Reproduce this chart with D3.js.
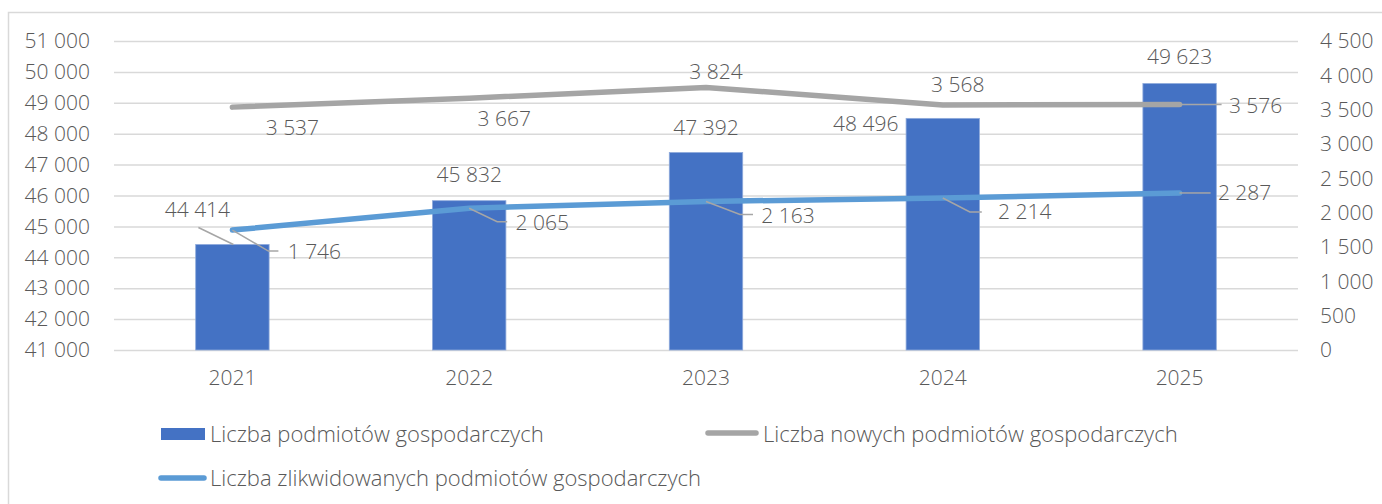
<!DOCTYPE html>
<html>
<head>
<meta charset="utf-8">
<script src="https://cdn.jsdelivr.net/npm/d3@7"></script>
<style>
  body { margin: 0; background: #fff; }
  svg text { font-family: "Open Sans", sans-serif; font-weight: 300; fill: #595959; }
</style>
</head>
<body>
<div id="chart"></div>
<script>
// data
const years = ["2021", "2022", "2023", "2024", "2025"]
const firms = [44414, 45832, 47392, 48496, 49623]
const newFirms = [3537, 3667, 3824, 3568, 3576]
const closedFirms = [1746, 2065, 2163, 2214, 2287]
const leftTicks = [41000, 42000, 43000, 44000, 45000, 46000, 47000, 48000, 49000, 50000, 51000]
const rightTicks = [0, 500, 1000, 1500, 2000, 2500, 3000, 3500, 4000, 4500]
const seriesNames = ["Liczba podmiotów gospodarczych", "Liczba nowych podmiotów gospodarczych", "Liczba zlikwidowanych podmiotów gospodarczych"]

// label placement (px offsets from the mark), leader lines as relative polylines
const firmLabelPos = [
  { dx: -35, dy: -35, leader: [[-34, -17], [1, 0]] },
  { dx: 0, dy: -26 },
  { dx: 0, dy: -25 },
  { dx: -77, dy: 5 },
  { dx: 0, dy: -27 }
]
const newLabelPos = [
  { dx: 60, dy: 21 },
  { dx: 35, dy: 20 },
  { dx: 10, dy: -16 },
  { dx: 15, dy: -20 },
  { dx: 76, dy: 1, leader: [[0, 0], [42, 0]] }
]
const closedLabelPos = [
  { dx: 82, dy: 22, leader: [[0, 0], [36, 21], [46, 21]] },
  { dx: 73, dy: 14, leader: [[0, 0], [28, 13.5], [38, 13.5]] },
  { dx: 82, dy: 14, leader: [[0, 0], [34, 13], [47, 13]] },
  { dx: 82, dy: 14, leader: [[0, 0], [27, 14], [39, 14]] },
  { dx: 65, dy: 0, leader: [[0, 0], [31, 0]] }
]

const width = 1382
const height = 504
const margin = { top: 41, bottom: 154, left: 114, right: 84 }
const fontSize = "21px"
const legendFontSize = "22px"

const fmt = d3.formatLocale({ decimal: ",", thousands: " ", grouping: [3], currency: ["", ""] }).format(",d")

const svg = d3.select("#chart")
  .append("svg")
    .attr("width", width)
    .attr("height", height)

// frame
svg.append("rect")
  .attr("x", 8.5).attr("y", 12.5)
  .attr("width", 1500).attr("height", 700)
  .attr("fill", "none")
  .attr("stroke", "#d9d9d9")
  .attr("stroke-width", 1.5)

const x = d3.scaleBand()
  .domain(years)
  .range([margin.left, width - margin.right])
  .paddingInner(0.69)
  .paddingOuter(0.345)

const xc = d => x(d) + x.bandwidth() / 2

const yL = d3.scaleLinear()
  .domain([41000, 51000])
  .range([height - margin.bottom, margin.top])

const yR = d3.scaleLinear()
  .domain([0, 4500])
  .range([height - margin.bottom, margin.top])

// gridlines
svg.append("g")
  .attr("transform", `translate(${margin.left},0)`)
  .call(d3.axisLeft(yL).tickValues(leftTicks).tickSize(-(width - margin.left - margin.right)).tickFormat(""))
  .call(g => g.select(".domain").remove())
  .call(g => g.selectAll("line").attr("stroke", "#d9d9d9").attr("stroke-width", 1.5))

// left axis labels
svg.append("g")
  .attr("transform", `translate(90,0)`)
  .call(d3.axisLeft(yL).tickValues(leftTicks).tickSize(0).tickPadding(0).tickFormat(fmt))
  .call(g => g.select(".domain").remove())
  .call(g => g.selectAll("text").style("font-size", fontSize).attr("fill", "#595959"))

// right axis labels
svg.append("g")
  .attr("transform", `translate(1320,0)`)
  .call(d3.axisRight(yR).tickValues(rightTicks).tickSize(0).tickPadding(0).tickFormat(fmt))
  .call(g => g.select(".domain").remove())
  .call(g => g.selectAll("text").style("font-size", fontSize).attr("fill", "#595959"))

// x axis labels
svg.append("g")
  .attr("transform", `translate(0,${height - margin.bottom + 20})`)
  .call(d3.axisBottom(x).tickSize(0).tickPadding(0))
  .call(g => g.select(".domain").remove())
  .call(g => g.selectAll("text").style("font-size", fontSize).attr("fill", "#595959").attr("dy", "0.71em"))

// bars
svg.append("g").selectAll("rect")
  .data(firms)
  .join("rect")
    .attr("x", (d, i) => x(years[i]))
    .attr("y", d => yL(d))
    .attr("width", x.bandwidth())
    .attr("height", d => yL(41000) - yL(d))
    .attr("fill", "#4472c4")
    .attr("stroke", "#8eaadb")
    .attr("stroke-width", 0.8)

// lines
const line = yScale => d3.line()
  .x((d, i) => xc(years[i]))
  .y(d => yScale(d))

svg.append("path")
  .datum(newFirms)
  .attr("d", line(yR))
  .attr("fill", "none")
  .attr("stroke", "#a5a5a5")
  .attr("stroke-width", 5.5)
  .attr("stroke-linecap", "round")
  .attr("stroke-linejoin", "round")

svg.append("path")
  .datum(closedFirms)
  .attr("d", line(yR))
  .attr("fill", "none")
  .attr("stroke", "#5b9bd5")
  .attr("stroke-width", 5.5)
  .attr("stroke-linecap", "round")
  .attr("stroke-linejoin", "round")

// data labels
function addLabels(values, yScale, pos) {
  const g = svg.append("g")
  values.forEach((v, i) => {
    const px = xc(years[i])
    const py = yScale(v)
    const p = pos[i]
    if (p.leader) {
      g.append("path")
        .attr("d", d3.line()(p.leader.map(q => [px + q[0], py + q[1]])))
        .attr("fill", "none")
        .attr("stroke", "#a6a6a6")
        .attr("stroke-width", 1.5)
    }
    g.append("text")
      .attr("x", px + p.dx)
      .attr("y", py + p.dy)
      .attr("text-anchor", "middle")
      .attr("dy", "0.35em")
      .style("font-size", fontSize)
      .text(fmt(v))
  })
}

addLabels(firms, yL, firmLabelPos)
addLabels(newFirms, yR, newLabelPos)
addLabels(closedFirms, yR, closedLabelPos)

// legend
const legend = svg.append("g")
legend.append("rect")
  .attr("x", 161).attr("y", 428)
  .attr("width", 44).attr("height", 12)
  .attr("fill", "#4472c4")
legend.append("text")
  .attr("x", 210).attr("y", 434).attr("dy", "0.35em")
  .style("font-size", legendFontSize)
  .text(seriesNames[0])

legend.append("line")
  .attr("x1", 708).attr("x2", 756)
  .attr("y1", 433).attr("y2", 433)
  .attr("stroke", "#a5a5a5").attr("stroke-width", 5.5).attr("stroke-linecap", "round")
legend.append("text")
  .attr("x", 763).attr("y", 434).attr("dy", "0.35em")
  .style("font-size", legendFontSize)
  .text(seriesNames[1])

legend.append("line")
  .attr("x1", 161).attr("x2", 204)
  .attr("y1", 478).attr("y2", 478)
  .attr("stroke", "#5b9bd5").attr("stroke-width", 5.5).attr("stroke-linecap", "round")
legend.append("text")
  .attr("x", 210).attr("y", 478).attr("dy", "0.35em")
  .style("font-size", legendFontSize)
  .text(seriesNames[2])
</script>
</body>
</html>
